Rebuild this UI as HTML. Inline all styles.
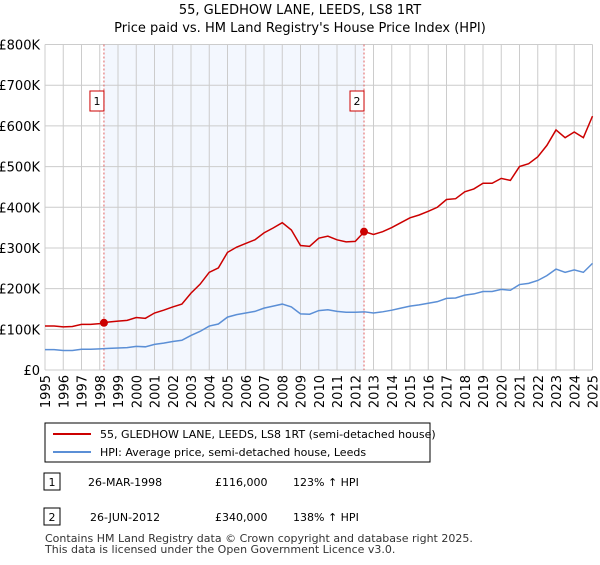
<!DOCTYPE html>
<html><head><meta charset="utf-8"><style>
body{margin:0;background:#fff;font-family:"Liberation Sans","DejaVu Sans",sans-serif;}
svg text{font-family:"DejaVu Sans","Liberation Sans",sans-serif;}
</style></head><body>
<svg id="c" width="600" height="560" xmlns="http://www.w3.org/2000/svg">
<text x="300" y="14" text-anchor="middle" font-size="13">55, GLEDHOW LANE, LEEDS, LS8 1RT</text>
<text x="300" y="32" text-anchor="middle" font-size="13">Price paid vs. HM Land Registry's House Price Index (HPI)</text>
<g id="plot"></g>
<rect x="45" y="423" width="385" height="39" fill="#fff" stroke="#000" stroke-width="1"/>
<line x1="53" y1="434" x2="91" y2="434" stroke="#cc0000" stroke-width="2"/>
<text x="100" y="438" font-size="11">55, GLEDHOW LANE, LEEDS, LS8 1RT (semi-detached house)</text>
<line x1="53" y1="452" x2="91" y2="452" stroke="#5b8fd6" stroke-width="2"/>
<text x="100" y="456" font-size="11">HPI: Average price, semi-detached house, Leeds</text>
<rect x="44" y="473" width="16" height="17" fill="#fff" stroke="#000"/>
<text x="52" y="486" text-anchor="middle" font-size="11">1</text>
<text x="88" y="486" font-size="11">26-MAR-1998</text>
<text x="215" y="486" font-size="11">£116,000</text>
<text x="293" y="486" font-size="11">123% ↑ HPI</text>
<rect x="44" y="508" width="16" height="17" fill="#fff" stroke="#000"/>
<text x="52" y="521" text-anchor="middle" font-size="11">2</text>
<text x="90" y="521" font-size="11">26-JUN-2012</text>
<text x="215" y="521" font-size="11">£340,000</text>
<text x="293" y="521" font-size="11">138% ↑ HPI</text>
<text x="45" y="542" font-size="11" fill="#333">Contains HM Land Registry data © Crown copyright and database right 2025.</text>
<text x="45" y="553" font-size="11" fill="#333">This data is licensed under the Open Government Licence v3.0.</text>
</svg>
<script>
const years=[1995,1995.5,1996,1996.5,1997,1997.5,1998,1998.5,1999,1999.5,2000,2000.5,2001,2001.5,2002,2002.5,2003,2003.5,2004,2004.5,2005,2005.5,2006,2006.5,2007,2007.5,2008,2008.5,2009,2009.5,2010,2010.5,2011,2011.5,2012,2012.5,2013,2013.5,2014,2014.5,2015,2015.5,2016,2016.5,2017,2017.5,2018,2018.5,2019,2019.5,2020,2020.5,2021,2021.5,2022,2022.5,2023,2023.5,2024,2024.5,2025];
const hpi=[50,50,48,48,51,51,52,53,54,55,58,57,63,66,70,73,85,95,108,113,130,136,140,144,152,157,162,155,138,137,146,148,144,142,142,143,140,143,147,152,157,160,164,168,176,177,184,187,193,193,198,196,210,213,220,232,248,240,246,240,262];
const price=[108,108,106,107,112,112,114,118,120,122,129,127,140,147,155,162,189,211,240,251,289,302,311,320,337,349,362,344,306,304,324,329,320,315,316,340,333,340,350,362,374,381,390,400,419,421,438,445,459,459,471,466,500,507,524,552,590,571,585,571,624];
const sales=[[1998.23,116],[2012.48,340]];
const yTicks=[0,100,200,300,400,500,600,700,800];
const xTicks=[];for(let y=1995;y<=2025;y++)xTicks.push(y);
const X0=45,X1=592.5,Y0=370,Y1=44.5;
const sx=t=>X0+(t-1995)/30*(X1-X0), sy=v=>Y0-v/800*(Y0-Y1);
const g=document.getElementById('plot');const NS='http://www.w3.org/2000/svg';
function mk(tag,a,parent){const e=document.createElementNS(NS,tag);for(const k in a)e.setAttribute(k,a[k]);(parent||g).appendChild(e);return e;}
let e=mk('rect',{x:sx(sales[0][0]),y:Y1,width:sx(sales[1][0])-sx(sales[0][0]),height:Y0-Y1,fill:'#eef3fd',opacity:0.7});


yTicks.forEach(v=>{let l=mk('line',{x1:X0,x2:X1,y1:sy(v),y2:sy(v),stroke:'#cccccc'});


let t=mk('text',{x:40,y:sy(v)+5,'text-anchor':'end','font-size':13});t.textContent=v===0?'£0':'£'+v+'K';

});
xTicks.forEach(y=>{let l=mk('line',{x1:sx(y),x2:sx(y),y1:Y1,y2:Y0,stroke:'#cccccc'});


let t=mk('text',{x:0,y:0,'text-anchor':'end','font-size':13,transform:`translate(${sx(y)+5},375) rotate(-90)`});t.textContent=y;

});
sales.forEach((s,i)=>{let l=mk('line',{x1:sx(s[0]),x2:sx(s[0]),y1:Y1,y2:Y0,stroke:'#e06060','stroke-dasharray':'2,2'});


let r=mk('rect',{x:sx(s[0])-14,y:91,width:14,height:20,fill:'#fff',stroke:'#cc0000'});


let t=mk('text',{x:sx(s[0])-7,y:105,'text-anchor':'middle','font-size':11});t.textContent=String(i+1);

});
let p1=mk('polyline',{points:years.map((y,i)=>sx(y)+','+sy(hpi[i])).join(' '),fill:'none',stroke:'#5b8fd6','stroke-width':1.5});


let p2=mk('polyline',{points:years.map((y,i)=>sx(y)+','+sy(price[i])).join(' '),fill:'none',stroke:'#cc0000','stroke-width':1.5});


sales.forEach(s=>{let d=mk('circle',{cx:sx(s[0]),cy:sy(s[1]),r:4,fill:'#cc0000'});

});
</script>
</body></html>
